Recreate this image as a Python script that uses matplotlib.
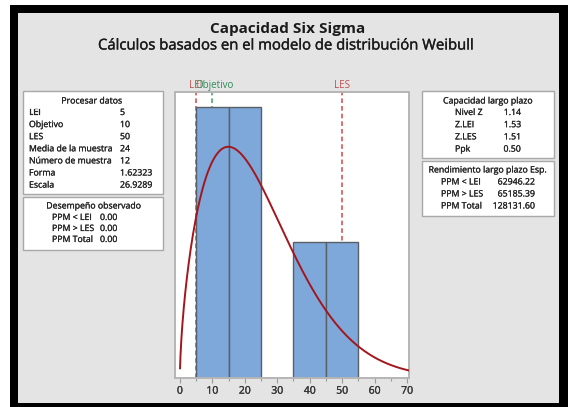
import numpy as np
import matplotlib
matplotlib.use("Agg")
import matplotlib.pyplot as plt
from matplotlib.patches import Rectangle
import matplotlib.patheffects as pe
import matplotlib.transforms as mtransforms

plt.rcParams['font.family'] = ['Open Sans', 'DejaVu Sans']

# Data
lei = 5
objetivo = 10
les = 50
bin_edges = [5, 15, 25, 35, 45, 55]
bin_counts = [4, 4, 0, 2, 2]
n_muestra = 12
forma = 1.62323
escala = 26.9289
x_ticks = [0, 10, 20, 30, 40, 50, 60, 70]

proc_labels = ["LEI", "Objetivo", "LES", "Media de la muestra", "Número de muestra", "Forma", "Escala"]
proc_values = ["5", "10", "50", "24", "12", "1.62323", "26.9289"]
obs_labels = ["PPM < LEI", "PPM > LES", "PPM Total"]
obs_values = ["0.00", "0.00", "0.00"]
cap_labels = ["Nivel Z", "Z.LEI", "Z.LES", "Ppk"]
cap_values = ["1.14", "1.53", "1.51", "0.50"]
rend_labels = ["PPM < LEI", "PPM > LES", "PPM Total"]
rend_values = ["62946.22", "65185.39", "128131.60"]

W, H = 568, 407
fig = plt.figure(figsize=(W / 100, H / 100), dpi=100)
fig.patch.set_facecolor("white")

# overlay in pixel coordinates for frame, titles and tables
bg = fig.add_axes([0, 0, 1, 1], zorder=0)
bg.set_xlim(0, W)
bg.set_ylim(H, 0)
bg.axis("off")
bg.add_patch(Rectangle((10, 5), 558, 402, facecolor="black", edgecolor="none"))
bg.add_patch(Rectangle((18, 13), 541, 390, facecolor="#e4e4e4", edgecolor="none"))

bg.text(288, 29, "Capacidad Six Sigma", ha="center", va="center", fontsize=11, fontweight="bold", color="#1a1a1a")
bg.text(286, 46, "Cálculos basados en el modelo de distribución Weibull", ha="center", va="center",
        fontsize=10.7, color="#1a1a1a",
        path_effects=[pe.withStroke(linewidth=0.25, foreground="#1a1a1a")])

thick = [pe.withStroke(linewidth=0.15, foreground="#222222")]


def box(x0, y0, x1, y1):
    bg.add_patch(Rectangle((x0, y0), x1 - x0, y1 - y0, facecolor="white", edgecolor="#a8a8a8", lw=1))


def txt(x, y, s, ha="left"):
    bg.text(x, y, s, ha=ha, va="center", fontsize=6.3, color="#222222", path_effects=thick)


# Procesar datos
box(23, 91, 163, 194)
txt(92, 101, "Procesar datos", ha="center")
for i, (lab, val) in enumerate(zip(proc_labels, proc_values)):
    y = 112.5 + i * 12.1
    txt(29, y, lab)
    txt(120, y, val)

# Desempeño observado
box(23, 197, 163, 250)
txt(94, 206, "Desempeño observado", ha="center")
for i, (lab, val) in enumerate(zip(obs_labels, obs_values)):
    y = 217.5 + i * 11
    txt(52, y, lab)
    txt(100, y, val)

# Capacidad largo plazo
box(422, 91, 554, 158)
txt(488, 101, "Capacidad largo plazo", ha="center")
for i, (lab, val) in enumerate(zip(cap_labels, cap_values)):
    y = 112.5 + i * 12.2
    txt(455, y, lab)
    txt(521, y, val, ha="right")

# Rendimiento largo plazo
box(422, 161, 554, 216)
txt(488, 170, "Rendimiento largo plazo Esp.", ha="center")
for i, (lab, val) in enumerate(zip(rend_labels, rend_values)):
    y = 182 + i * 12
    txt(441, y, lab)
    txt(535, y, val, ha="right")

# main chart
ax = fig.add_axes([175 / W, 1 - 378 / H, 234 / W, 286 / H], zorder=1)
ax.set_facecolor("white")

lines_col = "#d64545"
ax.axvline(lei, color=lines_col, ls=(0, (3, 2)), lw=1.1, zorder=1)
ax.axvline(objetivo, color="#3f9f5f", ls=(0, (3, 2)), lw=1.1, zorder=1)
ax.axvline(les, color=lines_col, ls=(0, (3, 2)), lw=1.1, zorder=1)

trans = mtransforms.blended_transform_factory(ax.transData, ax.transAxes)
ax.text(lei, 1.005, "LEI", transform=trans, ha="center", va="bottom", fontsize=7, color="#c0504d", clip_on=False)
ax.text(objetivo + 0.8, 1.005, "Objetivo", transform=trans, ha="center", va="bottom", fontsize=7,
        color="#2e8b57", clip_on=False)
ax.text(les, 1.005, "LES", transform=trans, ha="center", va="bottom", fontsize=7, color="#c0504d", clip_on=False)

edges = np.array(bin_edges)
centers = (edges[:-1] + edges[1:]) / 2
widths = np.diff(edges)
ax.bar(centers, bin_counts, width=widths, color="#7ea8da", edgecolor="#5a5f66", lw=1, zorder=2)

x = np.linspace(0.05, 72, 500)
pdf = (forma / escala) * (x / escala) ** (forma - 1) * np.exp(-(x / escala) ** forma)
ax.plot(x, pdf * n_muestra * 10, color="#a3161c", lw=1.4, zorder=3)

ax.set_xlim(-1.5, 70.6)
ax.set_ylim(0, 4.22)
ax.set_xticks(x_ticks)
ax.set_xticks([t + 5 for t in x_ticks[:-1]], minor=True)
ax.set_yticks([])
ax.tick_params(axis="x", which="major", length=3.5, width=0.8, color="#9a9a9a", labelsize=7.5,
               labelcolor="#333333", pad=2)
ax.tick_params(axis="x", which="minor", length=2, width=0.8, color="#9a9a9a")
for lab in ax.get_xticklabels():
    lab.set_path_effects([pe.withStroke(linewidth=0.2, foreground="#333333")])
for sp in ax.spines.values():
    sp.set_color("#b5b5b5")
    sp.set_linewidth(1.4)

fig.savefig("out.png", dpi=100)
